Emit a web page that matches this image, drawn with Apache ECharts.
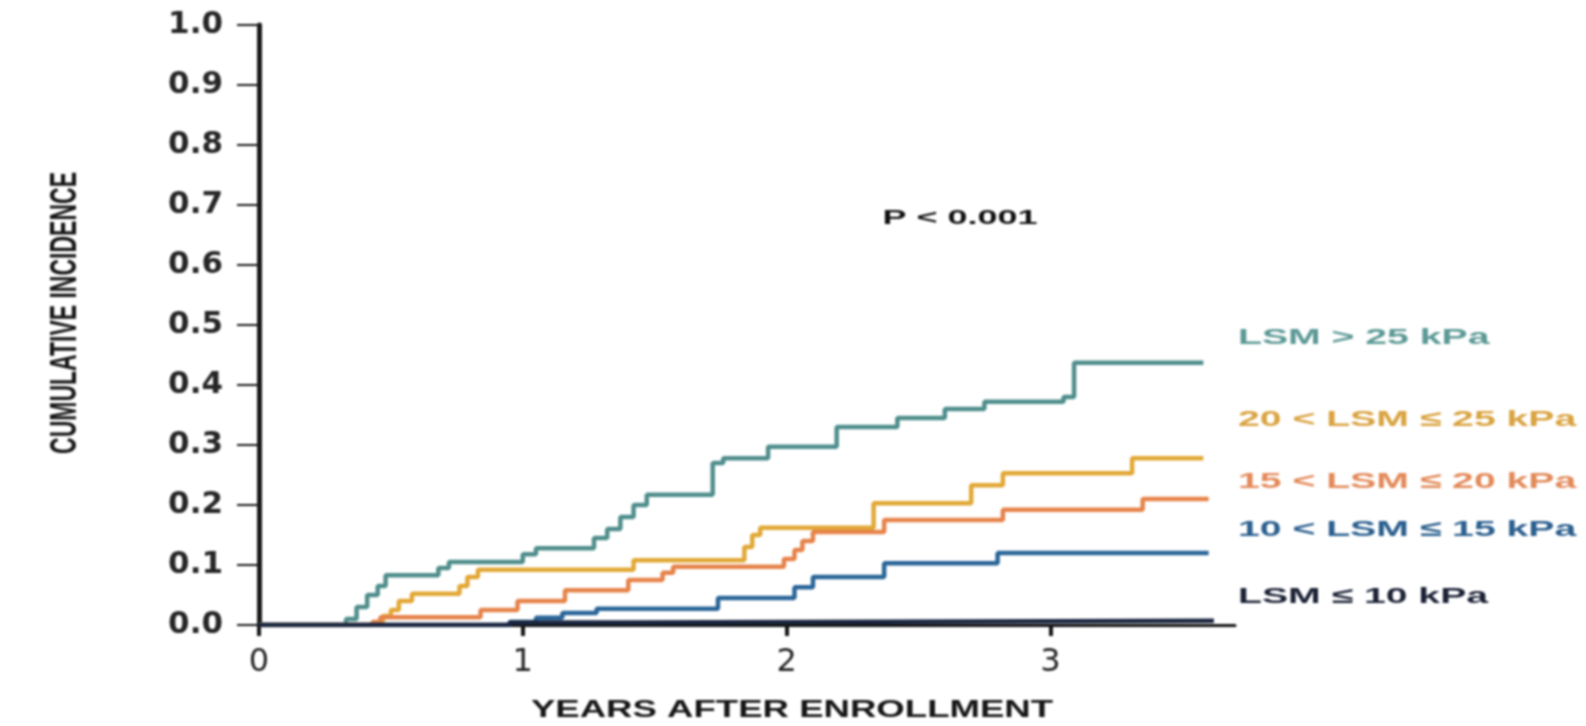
<!DOCTYPE html>
<html>
<head>
<meta charset="utf-8">
<script src="https://cdn.jsdelivr.net/npm/echarts@6/dist/echarts.min.js"></script>
<style>
  html, body { margin: 0; padding: 0; background: #ffffff; }
  #chart { width: 1586px; height: 726px; filter: blur(0.8px); }
</style>
</head>
<body>
<div id="chart"></div>
<script>
// Cumulative incidence by liver stiffness (LSM) group, years after enrollment.
// Each series: [year, cumulative incidence] at each step.
const lsmOver25 = [
  [0, 0], [0.33, 0.010], [0.37, 0.030], [0.41, 0.050], [0.45, 0.065], [0.48, 0.083],
  [0.68, 0.095], [0.72, 0.105], [1.00, 0.118], [1.05, 0.128], [1.27, 0.145],
  [1.32, 0.160], [1.37, 0.180], [1.42, 0.200], [1.47, 0.217], [1.72, 0.270],
  [1.76, 0.278], [1.93, 0.297], [2.19, 0.330], [2.42, 0.345], [2.60, 0.360],
  [2.75, 0.372], [3.05, 0.380], [3.09, 0.437], [3.58, 0.437]
];
const lsm20to25 = [
  [0, 0], [0.44, 0.005], [0.47, 0.015], [0.50, 0.025], [0.53, 0.040], [0.58, 0.052],
  [0.76, 0.065], [0.79, 0.080], [0.83, 0.092], [1.42, 0.108], [1.84, 0.130],
  [1.87, 0.150], [1.90, 0.162], [2.33, 0.203], [2.70, 0.233], [2.82, 0.253],
  [3.31, 0.278], [3.58, 0.278]
];
const lsm15to20 = [
  [0, 0], [0.43, 0.005], [0.46, 0.013], [0.84, 0.025], [0.98, 0.040], [1.16, 0.058],
  [1.40, 0.075], [1.53, 0.087], [1.57, 0.097], [1.99, 0.110], [2.03, 0.125],
  [2.06, 0.140], [2.10, 0.155], [2.37, 0.175], [2.82, 0.192], [3.35, 0.210],
  [3.60, 0.210]
];
const lsm10to15 = [
  [0, 0], [0.95, 0.005], [1.05, 0.012], [1.15, 0.020], [1.28, 0.027], [1.74, 0.045],
  [2.03, 0.063], [2.10, 0.080], [2.37, 0.103], [2.80, 0.120], [3.60, 0.120]
];
const lsmUpTo10 = [
  [0, 0], [0.95, 0.004], [1.40, 0.007], [3.62, 0.007]
];

const seriesNames = ['LSM > 25 kPa', '20 < LSM ≤ 25 kPa', '15 < LSM ≤ 20 kPa', '10 < LSM ≤ 15 kPa', 'LSM ≤ 10 kPa'];
const seriesData = [lsmOver25, lsm20to25, lsm15to20, lsm10to15, lsmUpTo10];
const lineColors = ['#4f8e8c', '#e2a836', '#e6834a', '#2a6598', '#1b2640'];
const labelColors = ['#5c9995', '#d9a340', '#e38a5a', '#2b5f8e', '#1c2236'];
const labelRows = [338, 420, 482, 530, 597];

const xTicks = [0, 1, 2, 3];
const yTicks = [0, 0.1, 0.2, 0.3, 0.4, 0.5, 0.6, 0.7, 0.8, 0.9, 1.0];
const pValueText = 'P < 0.001';
const xTitle = 'YEARS AFTER ENROLLMENT';
const yTitle = 'CUMULATIVE INCIDENCE';

const chart = echarts.init(document.getElementById('chart'), null, { renderer: 'canvas' });

const series = seriesData.map((d, i) => ({
  name: seriesNames[i],
  type: 'line',
  step: 'end',
  data: d,
  symbol: 'none',
  silent: true,
  z: 2 + i,
  lineStyle: { color: lineColors[i], width: 4.5 }
}));

const groupLabels = seriesNames.map((name, i) => ({
  type: 'text',
  x: 1238,
  y: labelRows[i],
  scaleX: 1.78,
  style: {
    text: name,
    fill: labelColors[i],
    font: 'bold 22px "Liberation Sans", Arial, sans-serif',
    textAlign: 'left',
    textVerticalAlign: 'middle'
  }
}));

chart.setOption({
  animation: false,
  backgroundColor: '#ffffff',
  grid: { left: 259, right: 351, top: 25, bottom: 101, containLabel: false },
  xAxis: {
    type: 'value',
    min: 0,
    max: 3.7,
    interval: 1,
    splitLine: { show: false },
    axisLine: { show: true, onZero: false, lineStyle: { color: '#151515', width: 3 } },
    axisTick: {
      show: true, inside: false, length: 11,
      customValues: xTicks,
      lineStyle: { color: '#151515', width: 4 }
    },
    axisLabel: {
      customValues: xTicks,
      margin: 22,
      color: '#222222',
      fontSize: 32,
      fontFamily: '"DejaVu Sans", sans-serif',
      formatter: v => String(v)
    }
  },
  yAxis: {
    type: 'value',
    min: 0,
    max: 1,
    interval: 0.1,
    splitLine: { show: false },
    axisLine: { show: true, lineStyle: { color: '#1a1a1a', width: 5 } },
    axisTick: {
      show: true, inside: false, length: 22,
      customValues: yTicks,
      lineStyle: { color: '#1a1a1a', width: 2 }
    },
    axisLabel: {
      customValues: yTicks,
      margin: 36,
      color: '#262626',
      fontSize: 31,
      fontWeight: 'bold',
      fontFamily: '"DejaVu Sans", sans-serif',
      formatter: v => v.toFixed(1)
    }
  },
  graphic: [
    {
      type: 'text',
      x: 960, y: 218,
      scaleX: 1.8,
      style: {
        text: pValueText,
        fill: '#111111',
        font: 'bold 20px "Liberation Sans", Arial, sans-serif',
        textAlign: 'center',
        textVerticalAlign: 'middle'
      }
    },
    {
      type: 'text',
      x: 792, y: 711,
      scaleX: 1.59,
      style: {
        text: xTitle,
        fill: '#161616',
        font: 'bold 23px "Liberation Sans", Arial, sans-serif',
        textAlign: 'center',
        textVerticalAlign: 'middle'
      }
    },
    {
      type: 'text',
      x: 66, y: 313,
      rotation: Math.PI / 2,
      scaleY: 1.6,
      style: {
        text: yTitle,
        fill: '#161616',
        font: 'bold 23px "Liberation Sans", Arial, sans-serif',
        textAlign: 'center',
        textVerticalAlign: 'middle'
      }
    }
  ].concat(groupLabels),
  series: series
});
</script>
</body>
</html>
